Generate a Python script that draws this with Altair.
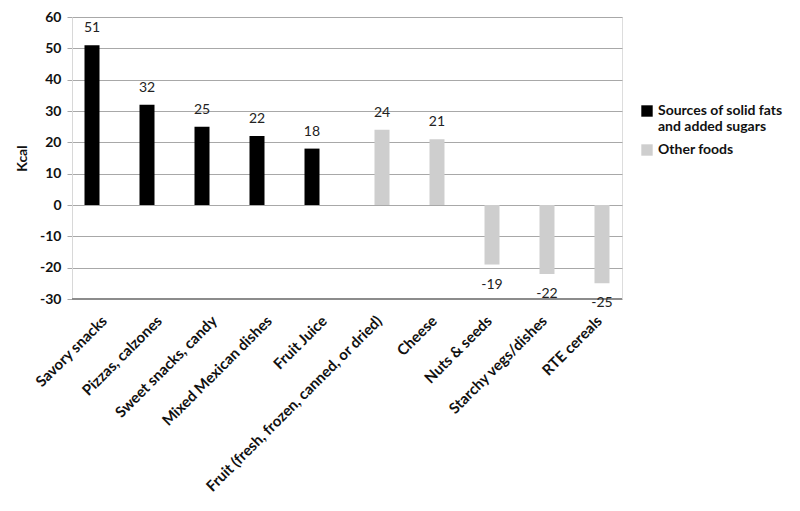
import altair as alt
import pandas as pd

categories = ["Savory snacks", "Pizzas, calzones", "Sweet snacks, candy", "Mixed Mexican dishes",
              "Fruit Juice", "Fruit (fresh, frozen, canned, or dried)", "Cheese", "Nuts & seeds",
              "Starchy vegs/dishes", "RTE cereals"]
values = [51, 32, 25, 22, 18, 24, 21, -19, -22, -25]
groups = ["Sources of solid fats and added sugars"] * 5 + ["Other foods"] * 5
group_order = ["Sources of solid fats and added sugars", "Other foods"]
colors = ["#000000", "#cecece"]
y_ticks = [-30, -20, -10, 0, 10, 20, 30, 40, 50, 60]

df = pd.DataFrame({"cat": categories, "kcal": values, "group": groups})

FONT = "Lato"

x = alt.X("cat:N", sort=categories, title=None,
          scale=alt.Scale(paddingInner=0.4545, paddingOuter=0.2273),
          axis=alt.Axis(labelAngle=-45, labelFont=FONT, labelFontWeight="bold",
                        labelFontSize=15, labelColor="#111", labelLimit=400,
                        ticks=False, domain=False, labelPadding=14))
xo = alt.XOffset("group:N", sort=group_order,
                 scale=alt.Scale(domain=group_order, paddingInner=0, paddingOuter=0))
y = alt.Y("kcal:Q", title="Kcal",
          scale=alt.Scale(domain=[-30, 60], nice=False, zero=False),
          axis=alt.Axis(values=y_ticks, tickCount=10, labelOverlap=False,
                        labelExpr="'' + datum.value",
                        labelFont=FONT, labelFontWeight="bold",
                        labelFontSize=14, labelColor="#111", titleFont=FONT,
                        titleFontWeight="bold", titleFontSize=14, titleColor="#111",
                        titlePadding=10, gridColor="#a8a8a8", gridWidth=1.2,
                        tickColor="#a8a8a8", tickSize=5, domainColor="#d8d8d8",
                        labelPadding=6))

color = alt.Color("group:N", sort=group_order,
                  scale=alt.Scale(domain=group_order, range=colors),
                  legend=alt.Legend(title=None, orient="none", legendX=568, legendY=87,
                                    symbolType="square", symbolSize=130,
                                    symbolStrokeWidth=0, labelFont=FONT,
                                    labelFontWeight="bold", labelFontSize=14,
                                    labelColor="#111", rowPadding=9,
                                    labelExpr="datum.label == 'Sources of solid fats and added sugars' ? ['Sources of solid fats', 'and added sugars'] : datum.label"))

base = alt.Chart(df).transform_calculate(lbl="'' + datum.kcal")

bars = base.mark_bar(size=15).encode(x=x, xOffset=xo, y=y, color=color)

pos = base.transform_filter("datum.kcal >= 0").mark_text(
    dy=-17, font=FONT, fontSize=14, color="#222").encode(
    x=x, xOffset=xo, y=y, text="lbl:N")
neg = base.transform_filter("datum.kcal < 0").mark_text(
    dy=20, font=FONT, fontSize=14, color="#222").encode(
    x=x, xOffset=xo, y=y, text="lbl:N")

bottom = alt.Chart(df).mark_rule(color="#8c8c8c", strokeWidth=2).encode(
    x=alt.value(0), x2=alt.value(550), y=alt.datum(-30))

chart = alt.layer(bars, bottom, pos, neg).properties(
    width=550, height=282,
    autosize=alt.AutoSizeParams(type="none"),
    padding={"left": 64, "top": 9, "right": 170, "bottom": 204},
).configure_view(stroke=None).configure(background="white")

chart.save("out.html", embed_options={"renderer": "svg", "actions": False})
